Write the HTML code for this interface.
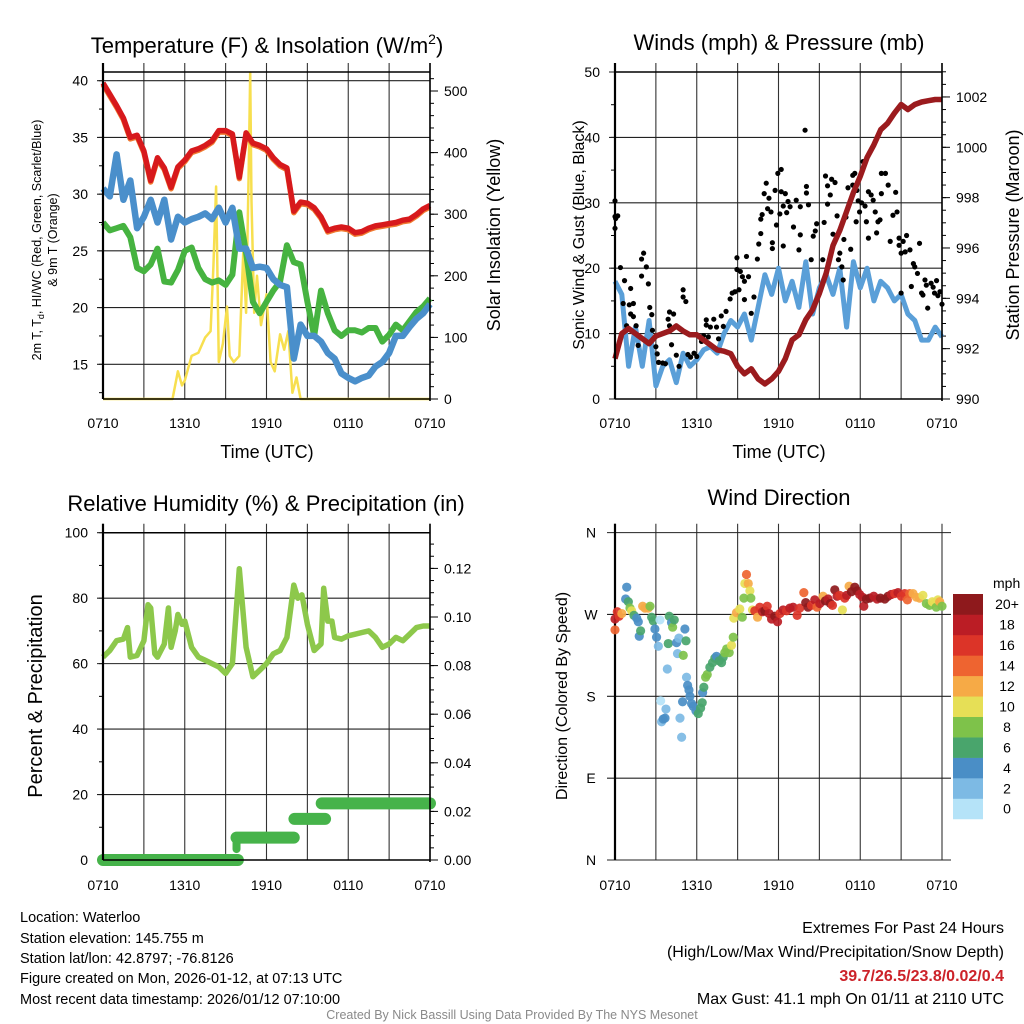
<!DOCTYPE html>
<html><head><meta charset="utf-8"><style>
html,body{margin:0;padding:0;background:#fff;}
svg{display:block;font-family:"Liberation Sans",Arial,sans-serif;}
</style></head><body>
<svg id="fig" width="1024" height="1024" viewBox="0 0 1024 1024" xmlns="http://www.w3.org/2000/svg">
<rect width="1024" height="1024" fill="#fff"/>
<g id="p1"></g>
<g id="p2"></g>
<g id="p3"></g>
<g id="p4"></g>

<text x="267" y="53" font-size="22" text-anchor="middle">Temperature (F) &amp; Insolation (W/m<tspan dy="-9" font-size="14">2</tspan><tspan dy="9">)</tspan></text>
<text x="779" y="50" font-size="22" text-anchor="middle">Winds (mph) &amp; Pressure (mb)</text>
<text x="266" y="511" font-size="22" text-anchor="middle">Relative Humidity (%) &amp; Precipitation (in)</text>
<text x="779" y="505" font-size="22" text-anchor="middle">Wind Direction</text>

<text x="267" y="458" font-size="18" text-anchor="middle">Time (UTC)</text>
<text x="779" y="458" font-size="18" text-anchor="middle">Time (UTC)</text>

<text transform="translate(41,240) rotate(-90)" font-size="12.5" text-anchor="middle">2m T, T<tspan font-size="9" dy="3">d</tspan><tspan dy="-3">, HI/WC (Red, Green, Scarlet/Blue)</tspan></text>
<text transform="translate(57,240) rotate(-90)" font-size="12.5" text-anchor="middle">&amp; 9m T (Orange)</text>
<text transform="translate(500,235) rotate(-90)" font-size="18" text-anchor="middle">Solar Insolation (Yellow)</text>
<text transform="translate(584,235) rotate(-90)" font-size="16" text-anchor="middle">Sonic Wind &amp; Gust (Blue, Black)</text>
<text transform="translate(1019,235) rotate(-90)" font-size="18" text-anchor="middle">Station Pressure (Maroon)</text>
<text transform="translate(42,696) rotate(-90)" font-size="20" text-anchor="middle">Percent &amp; Precipitation</text>
<text transform="translate(567,696) rotate(-90)" font-size="16" text-anchor="middle">Direction (Colored By Speed)</text>

<g font-size="14.5">
<text x="20" y="922">Location: Waterloo</text>
<text x="20" y="943">Station elevation: 145.755 m</text>
<text x="20" y="963">Station lat/lon: 42.8797; -76.8126</text>
<text x="20" y="983">Figure created on Mon, 2026-01-12, at 07:13 UTC</text>
<text x="20" y="1004">Most recent data timestamp: 2026/01/12 07:10:00</text>
</g>
<g font-size="16" text-anchor="end">
<text x="1004" y="933">Extremes For Past 24 Hours</text>
<text x="1004" y="957">(High/Low/Max Wind/Precipitation/Snow Depth)</text>
<text x="1004" y="981" fill="#cc2229" font-weight="bold">39.7/26.5/23.8/0.02/0.4</text>
<text x="1004" y="1004">Max Gust: 41.1 mph On 01/11 at 2110 UTC</text>
</g>
<text x="512" y="1019" font-size="12.5" fill="#8a8a8a" text-anchor="middle">Created By Nick Bassill Using Data Provided By The NYS Mesonet</text>
</svg>
<script>
// ===== DATA =====
const timeTickLabels = ["0710","1310","1910","0110","0710"];
const timeTickHours = [0,6,12,18,24];
const halfHours = [0,0.5,1,1.5,2,2.5,3,3.5,4,4.5,5,5.5,6,6.5,7,7.5,8,8.5,9,9.5,10,10.5,11,11.5,12,12.5,13,13.5,14,14.5,15,15.5,16,16.5,17,17.5,18,18.5,19,19.5,20,20.5,21,21.5,22,22.5,23,23.5,24];
const tempVals = [39.8,38.8,37.8,36.7,35.0,35.2,33.8,31.2,33.2,32.3,30.6,32.4,33.0,33.8,34.0,34.3,34.7,35.6,35.6,35.3,31.5,35.4,34.5,34.3,34.0,33.2,32.6,32.3,28.5,29.3,29.2,28.8,28.0,26.8,27.0,27.1,27.0,26.6,26.7,27.0,27.2,27.3,27.4,27.5,27.7,27.8,28.2,28.7,29.0];
const windChillVals = [30.5,29.8,33.5,29.5,31.2,27.0,28.0,29.5,27.5,29.5,26.0,28.0,27.5,27.8,28.0,28.3,27.8,28.8,27.5,28.8,25.2,25.2,23.5,23.6,23.5,22.5,22.0,21.8,15.5,18.5,17.5,17.5,17.0,16.0,15.5,14.2,13.8,13.5,13.8,14.0,14.8,15.2,16.0,17.5,17.5,18.3,19.0,19.5,20.3];
const dewpointVals = [27.5,26.8,27.0,27.2,26.2,23.5,23.2,23.8,25.2,22.3,22.2,23.3,25.0,25.3,23.5,22.5,22.2,22.4,22.0,22.9,28.4,24.8,20.5,19.5,20.5,21.5,22.3,25.5,24.0,23.8,20.5,17.5,21.5,19.5,18.0,17.5,18.0,18.0,17.8,18.2,18.2,17.0,17.6,18.5,18.0,18.8,19.6,20.1,20.8];
const solarHours = [0,5.1,5.5,5.8,6.0,6.5,7.0,7.5,7.9,8.1,8.3,8.5,8.8,9.1,9.3,9.6,10.0,10.3,10.5,10.7,10.8,10.9,11.1,11.3,11.6,12.0,12.3,12.6,13.0,13.3,13.6,13.9,14.2,14.5,24];
const solarVals = [0,0,45,22,30,70,75,100,110,215,345,60,90,150,70,60,70,240,140,380,530,320,140,200,120,170,60,45,105,80,110,10,35,0,0];

const windVals = [18,16,5,11,5,12,2,5,6,2.5,7,5,6,7.5,8,7,10,12,11,13,9,14,19,16,20,15,18,14,21,13,17,19,16,20,11,21,17,20,15,18,17,15,16,13,12,9,9,11,9.5];
const pressureVals = [991.6,992.6,992.8,992.6,992.4,992.2,992.5,992.6,992.7,992.9,992.7,992.55,992.55,992.35,992.15,991.95,991.9,991.8,991.3,991.0,991.2,990.8,990.6,990.8,991.1,991.6,992.35,992.55,993.15,993.55,994.2,995.0,996.1,996.7,997.45,998.2,998.85,999.6,1000.1,1000.7,1000.95,1001.35,1001.7,1001.5,1001.7,1001.8,1001.85,1001.9,1001.9];
const gustHours = [0,0,0,0.05,0.2,0.4,0.6,0.7,0.85,1.05,1.15,1.15,1.35,1.35,1.55,1.7,1.95,1.95,2.1,2.3,2.45,2.55,2.7,2.75,3.0,3.1,3.2,3.5,3.7,3.9,4.0,4.0,4.15,4.3,4.5,4.7,5.0,5.0,5.2,5.35,5.55,5.8,6.0,6.35,6.5,6.7,6.7,6.85,7.0,7.25,7.45,7.6,7.8,7.95,8.15,8.45,8.6,8.8,8.95,8.95,9.1,9.2,9.35,9.5,9.5,9.65,9.8,10.0,10.2,10.45,10.55,10.7,10.7,10.8,10.95,11.1,11.2,11.3,11.45,11.55,11.55,11.75,11.85,11.95,12.1,12.2,12.2,12.35,12.35,12.5,12.6,12.7,12.85,13.1,13.3,13.5,13.6,13.6,13.95,14.05,14.05,14.2,14.4,14.55,14.7,14.8,15.25,15.35,15.45,15.6,15.6,15.8,15.9,16.0,16.15,16.3,16.4,16.5,16.65,16.75,16.8,16.95,17.1,17.3,17.45,17.45,17.6,17.7,17.75,17.85,17.95,18.1,18.2,18.35,18.45,18.6,18.6,18.8,18.95,19.1,19.2,19.3,19.45,19.55,19.55,19.85,20.05,20.2,20.4,20.6,20.7,20.85,20.85,21.0,21.0,21.15,21.3,21.4,21.65,21.75,21.9,22.0,22.2,22.35,22.5,22.6,22.75,22.85,22.95,23.2,23.35,23.45,23.6,23.7,23.85,24.0];
const gustVals = [30.3,27.9,26.1,27.6,28,20.1,14.6,18.1,11.2,14.4,16.9,13,14.6,12.6,11.2,8.2,21.4,18.8,22.3,20.2,17.6,14,12.9,10.5,8,6.9,5.6,5.5,5.4,12.2,13.3,11.2,8.3,13,6.7,5,16.7,15.6,14.9,6.8,6.4,7,6.5,8.8,9.7,11.3,12.1,9.5,11,12.2,11,9.2,12.7,11.1,13.4,15.3,16.2,16.4,21.6,19.8,16.7,19.5,18.7,18,15.2,21.8,18.7,13.1,15.6,21.4,23.7,27.5,25.3,28.2,31.4,33,29.1,30.7,28.6,23.9,23,31.9,26.6,34.5,28.3,31.7,35.1,29.5,23.4,31.4,28.5,30.2,29.4,26.3,30.4,22.8,29.4,25.1,41.1,32.5,31.5,29.7,21.3,24.9,25.7,26.8,21.3,27,34.1,29.8,32.6,31.2,33.6,25.2,33.1,28,21.3,22.3,20.2,18.2,24.4,27.8,32.3,22.9,34.2,32.7,34.5,27.1,31.9,30.3,28.6,30,36.3,29.5,27.1,24.6,31.7,31.2,30.4,28.6,25.4,27.1,27.4,31.4,34.5,34.5,32.7,24.1,28.1,31.6,28.6,24.6,23.5,22.3,16.2,24.1,22.5,25,22.8,17.2,20.7,20.2,19.2,23.8,16.2,15.9,18.2,17.4,13.9,17.7,17.1,16.2,18.1,15.8,16.4,14.5];

const rhHours = [0,0.5,1,1.5,1.8,2,2.5,3,3.3,3.5,3.8,4,4.5,4.8,5,5.3,5.5,5.8,6,6.5,7,7.5,8,8.5,9,9.5,10,10.5,11,11.5,12,12.5,13,13.5,14,14.3,14.6,15,15.5,16,16.2,16.5,16.8,17,17.5,18,18.5,19,19.5,20,20.5,21,21.5,22,22.5,23,23.5,24];
const rhVals = [62,64,67,67.5,71,62,62.5,67,78,77,63,62,66,77,65,70,75,72,73,65,62,61,60,59,57,60,89,65,56,58,60,63,64,68,84,80,81,72,64,66,83,73,73,68,67.5,68.5,69,69.5,70,68,65,66,68,67,69,71,71.5,71.5];
const precipStart = [0,9.8,14.05,16.05];
const precipEnd = [9.9,14.0,16.3,24];
const precipVals = [0,0.0092,0.0169,0.0233];

const dirHours = [0,0,0.17,0.3,0.5,0.86,0.78,0.98,1.1,1.22,1.39,1.59,1.71,1.78,1.88,2.03,2.2,2.44,2.57,2.69,2.81,2.93,3.05,3.18,3.3,3.42,3.54,3.67,3.74,3.35,3.84,3.91,3.98,4.15,4.23,4.35,4.52,4.59,4.69,4.77,4.89,4.96,5.01,5.13,5.21,5.25,5.33,5.43,5.5,5.62,5.74,5.94,6.11,6.28,6.4,6.43,6.52,6.65,6.77,6.96,7.16,7.33,7.45,7.65,7.82,7.94,8.06,8.19,8.38,8.55,8.68,8.72,8.92,9.16,9.34,9.46,9.53,9.65,9.78,9.9,9.97,10.09,10.26,10.46,10.63,10.83,11.0,11.17,11.31,11.49,11.73,11.93,12.1,12.34,12.59,12.83,13.07,13.37,13.56,13.86,14.0,14.17,14.42,14.66,14.83,15.03,15.27,15.44,15.64,15.81,15.96,16.13,16.3,16.49,16.69,16.86,17.0,17.18,17.35,17.6,17.77,17.96,18.16,18.26,18.45,18.7,18.99,19.23,19.48,19.8,20.04,20.28,20.53,20.77,21.02,21.26,21.46,21.63,21.87,22.12,22.36,22.6,22.85,23.09,23.29,23.46,23.58,23.7,23.83,24.0];
const dirVals = [265,253,273,268,271,300,287,284,277,274,269,266,262,246,252,279,277,277,279,267,263,254,245,235,264,152,155,156,166,175,210,238,268,261,256,264,239,227,244,156,135,174,225,254,241,201,192,187,180,172,169,164,161,167,173,184,190,201,204,212,217,222,224,219,217,223,228,232,228,236,245,266,272,276,267,288,304,314,304,296,288,275,274,267,278,273,274,279,271,265,268,262,271,275,274,277,278,269,277,294,283,278,280,286,278,282,290,285,287,282,280,297,290,291,275,288,291,301,295,300,296,292,289,279,287,288,290,287,288,287,290,292,293,294,290,293,286,293,293,289,288,291,282,280,284,283,278,286,284,279];
const dirSpeeds = [18,14,16,16,12,4,4,6,8,10,6,4,4,4,6,12,12,12,8,6,6,4,4,2,0,2,4,4,2,0,2,6,6,4,8,6,4,2,2,2,2,4,8,4,6,2,4,4,4,4,4,4,6,6,6,4,6,8,8,6,6,6,4,6,6,6,8,8,8,10,8,10,12,10,8,8,10,14,12,10,8,10,16,12,16,18,20,16,18,18,20,18,16,18,16,18,18,16,16,14,20,20,16,18,14,18,12,20,18,20,16,20,18,16,10,16,18,12,20,20,20,18,18,18,20,20,18,18,20,20,20,18,16,18,16,16,14,14,12,12,12,10,8,8,10,10,8,10,12,8];
const speedBinLabels = ["0","2","4","6","8","10","12","14","16","18","20+"];
const speedBinColors = ["#b5e3f8","#7dbae4","#4a8ec6","#49a56c","#7ec24a","#e6df56","#f6aa46","#ee6430","#dc3428","#bb1d25","#8e191c"];

// ===== HELPERS =====
const NS = "http://www.w3.org/2000/svg";
function mk(parent, tag, attrs) {
  const e = document.createElementNS(NS, tag);
  for (const k in attrs) e.setAttribute(k, attrs[k]);
  parent.appendChild(e);
  return e;
}
function poly(xs, ys) { return xs.map((x,i)=>x.toFixed(1)+","+ys[i].toFixed(1)).join(" "); }

function timeAxis(g, x0, x1, yTop, yBot, labelY) {
  const xh = h => x0 + h*(x1-x0)/24;
  for (let h=0; h<=24; h+=3) {
    const l = mk(g,"line",{x1:xh(h),x2:xh(h),y1:yTop-9,y2:yBot,stroke:"#333","stroke-width":1.1});
    
    
  }
  timeTickHours.forEach((h,i)=>{
    const t = mk(g,"text",{x:xh(h),y:labelY,"font-size":14,"text-anchor":"middle"});
    t.textContent = timeTickLabels[i];
    
    
  });
  return xh;
}
function yTicksLeft(g, x0, x1, map, majors, minorStep, lo, hi, fmt, grid) {
  for (let v=lo; v<=hi+1e-9; v+=minorStep) {
    mk(g,"line",{x1:x0-4,x2:x0,y1:map(v),y2:map(v),stroke:"#000","stroke-width":1});
  }
  majors.forEach(v=>{
    if (grid) {
      const gl = mk(g,"line",{x1:x0-6,x2:x1,y1:map(v),y2:map(v),stroke:"#222","stroke-width":1.1});
      
      
    }
    const t = mk(g,"text",{x:x0-15,y:map(v)+5,"font-size":14,"text-anchor":"end"});
    t.textContent = fmt(v);
    
    
  });
}
function yTicksRight(g, x1, map, majors, minorStep, lo, hi, fmt) {
  for (let v=lo; v<=hi+1e-9; v+=minorStep) {
    mk(g,"line",{x1:x1,x2:x1+4,y1:map(v),y2:map(v),stroke:"#000","stroke-width":1});
  }
  majors.forEach(v=>{
    mk(g,"line",{x1:x1,x2:x1+8,y1:map(v),y2:map(v),stroke:"#000","stroke-width":1});
    const t = mk(g,"text",{x:x1+14,y:map(v)+5,"font-size":14});
    t.textContent = fmt(v);
    
    
  });
}
function frame(g, x0, x1, yTop, yBot, top, right) {
  if (top) mk(g,"line",{x1:x0,x2:x1,y1:yTop,y2:yTop,stroke:"#000","stroke-width":1.5});
  mk(g,"line",{x1:x0,x2:x1,y1:yBot,y2:yBot,stroke:"#000","stroke-width":1.5});
  mk(g,"line",{x1:x0,x2:x0,y1:yTop-9,y2:yBot,stroke:"#000","stroke-width":2.2});
  if (right) mk(g,"line",{x1:x1,x2:x1,y1:yTop-9,y2:yBot+2,stroke:"#000","stroke-width":1.6});
}

// ===== PANEL 1 =====
(function(){
  const g = document.getElementById("p1");
  const x0=103,x1=430,yTop=72,yBot=399;
  const yL = v => 80.7 + (40-v)*11.344;
  const yR = v => 399 - v*0.616;
  const xh = timeAxis(g,x0,x1,yTop,yBot,428);
  yTicksLeft(g,x0,x1,yL,[15,20,25,30,35,40],2.5,12.5,40,v=>String(v),true);
  yTicksRight(g,x1,yR,[0,100,200,300,400,500],20,0,520,v=>String(v));
  const xs = halfHours.map(xh);
  const sol = mk(g,"polyline",{points:poly(solarHours.map(xh),solarVals.map(yR)),fill:"none",stroke:"#f7df4f","stroke-width":2.5,"stroke-linejoin":"round"});
  
  
  const dp = mk(g,"polyline",{points:poly(xs,dewpointVals.map(yL)),fill:"none",stroke:"#46b340","stroke-width":6,"stroke-linejoin":"round"});
  
  
  const wc = mk(g,"polyline",{points:poly(xs,windChillVals.map(yL)),fill:"none",stroke:"#4a8fcb","stroke-width":6.5,"stroke-linejoin":"round"});
  
  
  const t9 = mk(g,"polyline",{points:poly(xs,tempVals.map(v=>yL(v)+1.5)),fill:"none",stroke:"#f07a30","stroke-width":5.5,"stroke-linejoin":"round"});
  
  
  const t2 = mk(g,"polyline",{points:poly(xs,tempVals.map(yL)),fill:"none",stroke:"#d7191c","stroke-width":5.5,"stroke-linejoin":"round"});
  
  
  frame(g,x0,x1,yTop,yBot,true,true);
})();

// ===== PANEL 2 =====
(function(){
  const g = document.getElementById("p2");
  const x0=615,x1=942,yTop=72,yBot=399;
  const yL = v => 399 - v*6.54;
  const yR = p => 399 - (p-990)*25.17;
  const xh = timeAxis(g,x0,x1,yTop,yBot,428);
  yTicksLeft(g,x0,x1,yL,[0,10,20,30,40,50],5,0,50,v=>String(v),true);
  yTicksRight(g,x1,yR,[990,992,994,996,998,1000,1002],0.5,990,1003,v=>String(v));
  const xs = halfHours.map(xh);
  const w = mk(g,"polyline",{points:poly(xs,windVals.map(yL)),fill:"none",stroke:"#5a9fd8","stroke-width":5,"stroke-linejoin":"round"});
  
  
  gustHours.forEach((h,i)=>{
    const c = mk(g,"circle",{cx:xh(h),cy:yL(gustVals[i]),r:2.6,fill:"#000"});
    
    
  });
  const p = mk(g,"polyline",{points:poly(xs,pressureVals.map(yR)),fill:"none",stroke:"#9b1b1e","stroke-width":5.5,"stroke-linejoin":"round"});
  
  
  frame(g,x0,x1,yTop,yBot,true,true);
})();

// ===== PANEL 3 =====
(function(){
  const g = document.getElementById("p3");
  const x0=103,x1=430,yTop=532.7,yBot=860;
  const yL = v => 860 - v*3.273;
  const yR = p => 860 - p*2430;
  const xh = timeAxis(g,x0,x1,yTop,yBot,890);
  yTicksLeft(g,x0,x1,yL,[0,20,40,60,80,100],10,0,100,v=>String(v),true);
  yTicksRight(g,x1,yR,[0,0.02,0.04,0.06,0.08,0.1,0.12],0.005,0,0.13,v=>v.toFixed(2));
  const rh = mk(g,"polyline",{points:poly(rhHours.map(xh),rhVals.map(yL)),fill:"none",stroke:"#8dc84b","stroke-width":5.5,"stroke-linejoin":"round"});
  
  
  precipVals.forEach((v,i)=>{
    const s = mk(g,"line",{x1:xh(precipStart[i]),x2:xh(precipEnd[i]),y1:yR(v),y2:yR(v),stroke:"#46b34a","stroke-width":12,"stroke-linecap":"round"});
    
    
  });
  mk(g,"line",{x1:xh(9.8),x2:xh(9.8),y1:yR(0.0045),y2:yR(0.0092),stroke:"#46b34a","stroke-width":8,"stroke-linecap":"round"});
  frame(g,x0,x1,yTop,yBot,true,true);
})();

// ===== PANEL 4 =====
(function(){
  const g = document.getElementById("p4");
  const x0=615,x1=942,yTop=532.7,yBot=860;
  const yD = d => 860 - d*0.9094;
  const xh = timeAxis(g,x0,x1,yTop,yBot,890);
  const dirLabels = ["N","E","S","W","N"];
  [0,90,180,270,360].forEach((d,i)=>{
    const gl = mk(g,"line",{x1:x0-8,x2:x1+9,y1:yD(d),y2:yD(d),stroke:"#222","stroke-width":1.1});
    
    
    const t = mk(g,"text",{x:591,y:yD(d)+5,"font-size":14,"text-anchor":"middle"});
    t.textContent = dirLabels[i];
    
    
  });
  mk(g,"line",{x1:x0,x2:x0,y1:yTop-9,y2:yBot,stroke:"#000","stroke-width":2.2});
  dirHours.forEach((h,i)=>{
    const bin = Math.min(10, Math.floor(dirSpeeds[i]/2));
    const c = mk(g,"circle",{cx:xh(h),cy:yD(dirVals[i]),r:4.6,fill:speedBinColors[bin],"fill-opacity":0.92});
    
    
  });
  const cb = mk(g,"g",{});
  
  
  const bh = 20.45, top=594;
  speedBinLabels.forEach((lab,i)=>{
    const y = top + (10-i)*bh;
    const r = mk(cb,"rect",{x:953,y:y,width:30,height:bh+0.3,fill:speedBinColors[i]});
    
    
    const t = mk(cb,"text",{x:1007,y:y+bh/2+5,"font-size":14,"text-anchor":"middle"});
    t.textContent = lab;
    
    
  });
  const u = mk(cb,"text",{x:993,y:588,"font-size":14});
  u.textContent = "mph";
  
  
})();
</script>
</body></html>
